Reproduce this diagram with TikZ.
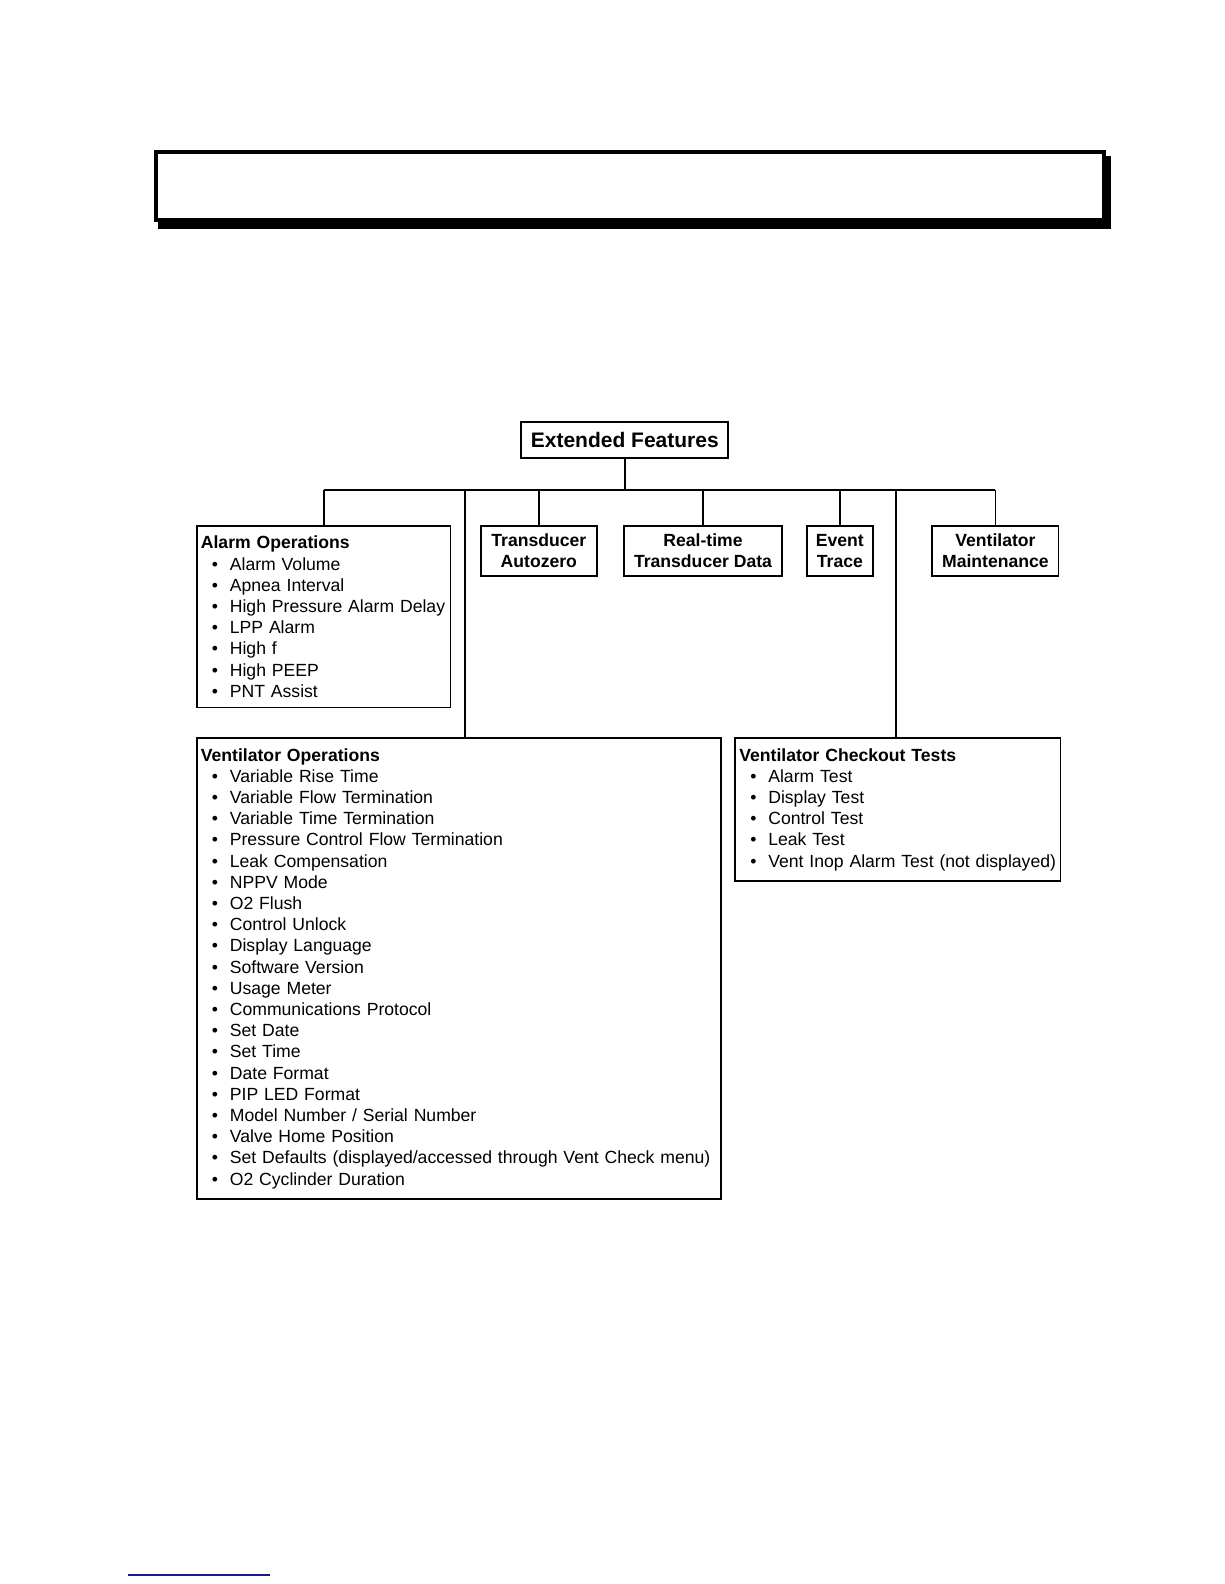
\documentclass[tikz,border=0pt]{standalone}
\usepackage{fontspec}
\setmainfont{Liberation Sans}
\usetikzlibrary{positioning}

\definecolor{linkblue}{RGB}{25,25,140}

% one bullet line of a list box
\newcommand{\itm}[1]{\\\makebox[14.5pt][l]{\hspace{5.5pt}\textbullet}\mbox{#1}}

\tikzset{
  boxline/.style={draw, line width=0.9pt},
  link/.style={line width=0.9pt},
  listbox/.style={boxline, anchor=north west, align=left, inner xsep=2pt, inner ysep=5pt,
                  font=\fontsize{8.8}{10.6}\selectfont},
  headbox/.style={boxline, anchor=north west, align=center, inner sep=1pt,
                  font=\bfseries\fontsize{8.8}{10.5}\selectfont},
}

\begin{document}
\begin{tikzpicture}[x=0.505pt, y=-0.505pt]

% General parameters (page units, y downwards)
\def\busY{485}        % height of the distribution line
\def\rowY{520}        % top of the first row of boxes
\def\lowY{730}        % top of the second row of boxes
\def\px{0.505pt}

\useasboundingbox (0,0) rectangle (1212,1568);

% Title frame with its shadow
\fill (156,154) rectangle (1100,226.5);
\draw[fill=white, line width=2pt] (154,150) rectangle (1093,218);

% Root
\node[boxline, font=\bfseries\fontsize{10.5}{12}\selectfont, minimum width=205*\px, minimum height=35*\px,
      inner sep=1pt] (ext) at (618.5,435.5) {Extended Features};

% First row: small boxes
\foreach \nm/\xl/\bw/\txt in {tra/475/115/{Transducer\\Autozero},
                              rtd/617/156/{Real-time\\Transducer Data},
                              evt/798/65/{Event\\Trace},
                              maint/922/125/{Ventilator\\Maintenance}} {
    \node[headbox, minimum width=\bw*\px, minimum height=49*\px] (\nm) at (\xl,\rowY) {\txt};
}

% First row: alarm list
\node[listbox, text width=122.8pt] (alarm) at (194,\rowY) {\textbf{Alarm Operations}%
  \itm{Alarm Volume}\itm{Apnea Interval}\itm{High Pressure Alarm Delay}%
  \itm{LPP Alarm}\itm{High f}\itm{High PEEP}\itm{PNT Assist}};

% Second row
\node[listbox, text width=258pt] (ops) at (194,\lowY) {\textbf{Ventilator Operations}%
  \itm{Variable Rise Time}\itm{Variable Flow Termination}\itm{Variable Time Termination}%
  \itm{Pressure Control Flow Termination}\itm{Leak Compensation}\itm{NPPV Mode}%
  \itm{O2 Flush}\itm{Control Unlock}\itm{Display Language}\itm{Software Version}%
  \itm{Usage Meter}\itm{Communications Protocol}\itm{Set Date}\itm{Set Time}%
  \itm{Date Format}\itm{PIP LED Format}\itm{Model Number / Serial Number}%
  \itm{Valve Home Position}\itm{Set Defaults (displayed/accessed through Vent Check menu)}%
  \itm{O2 Cyclinder Duration}};

\node[listbox, text width=158.6pt] (check) at (727,\lowY) {\textbf{Ventilator Checkout Tests}%
  \itm{Alarm Test}\itm{Display Test}\itm{Control Test}\itm{Leak Test}%
  \itm{Vent Inop Alarm Test (not displayed)}};

% Connectors
\coordinate (busL) at (alarm.north |- 0,\busY);
\coordinate (busR) at (maint.north |- 0,\busY);
\coordinate (opsdrop) at (460,\busY);
\coordinate (checkdrop) at (887,\busY);
\draw[link] (busL) -- (busR);
\draw[link] (ext.south) -- (ext.south |- busL);
\foreach \nm in {alarm,tra,rtd,evt,maint} {
    \draw[link] (\nm.north) -- (\nm.north |- busL);
}
\draw[link] (opsdrop) -- (opsdrop |- ops.north);
\draw[link] (checkdrop) -- (checkdrop |- check.north);

% Footnote rule
\draw[linkblue, line width=0.6pt] (127,1559) -- (267,1559);

\end{tikzpicture}
\end{document}
